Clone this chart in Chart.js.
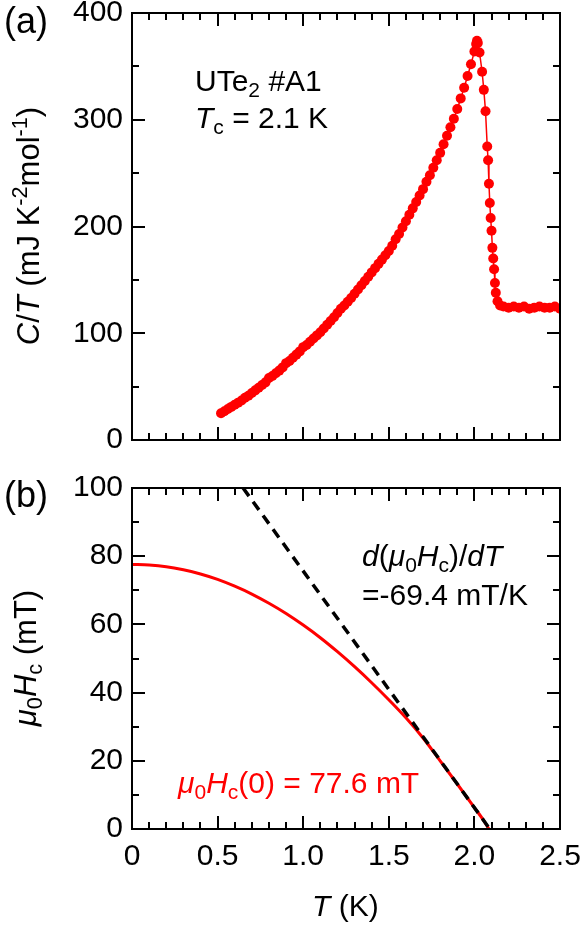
<!DOCTYPE html>
<html>
<head>
<meta charset="UTF-8">
<title>UTe2 #A1 - C/T and thermodynamic critical field</title>
<script src="https://cdn.jsdelivr.net/npm/chart.js@4.4.0/dist/chart.umd.min.js"></script>
<style>
  html, body { margin: 0; padding: 0; background: #fff; }
  body { width: 581px; height: 928px; position: relative; overflow: hidden;
         font-family: "Liberation Sans", Arial, sans-serif; color: #000; }
  canvas { position: absolute; left: 0; }
  #chartA { top: 0; }
  #chartB { top: 470px; }
  .txt { position: absolute; font-size: 30px; line-height: 30px; white-space: nowrap; z-index: 2; }
  .panel { position: absolute; font-size: 36px; line-height: 36px; z-index: 2; }
  .ytitle { position: absolute; font-size: 31px; line-height: 31px; white-space: nowrap; z-index: 2;
            transform: translate(-50%, -50%) rotate(-90deg); }
  sub { font-size: 0.7em; vertical-align: -0.28em; line-height: 0; }
  sup { font-size: 0.7em; vertical-align: 0.55em; line-height: 0; }
  i { font-style: italic; }
</style>
</head>
<body>
<canvas id="chartA" width="581" height="470"></canvas>
<canvas id="chartB" width="581" height="458"></canvas>

<div class="panel" style="left:4px; top:3px;">(a)</div>
<div class="panel" style="left:4px; top:477px;">(b)</div>

<div class="txt" style="left:195px; top:66px;">UTe<sub>2</sub> #A1</div>
<div class="txt" style="left:195px; top:103px;"><i>T</i><sub>c</sub> = 2.1 K</div>

<div class="txt" style="left:362px; top:541px;"><i>d</i>(<i>μ</i><sub>0</sub><i>H</i><sub>c</sub>)/<i>dT</i></div>
<div class="txt" style="left:362px; top:580px;">=-69.4 mT/K</div>
<div class="txt" style="left:178px; top:768px; color:#ff0000;"><i>μ</i><sub>0</sub><i>H</i><sub>c</sub>(0) = 77.6 mT</div>

<div class="ytitle" style="left:28px; top:226px;"><i>C</i>/<i>T</i> (mJ K<sup>-2</sup>mol<sup>-1</sup>)</div>
<div class="ytitle" style="left:25px; top:658px;"><i>μ</i><sub>0</sub><i>H</i><sub>c</sub> (mT)</div>
<div class="txt" style="left:312px; top:891px;"><i>T</i> (K)</div>

<script>
// (a) specific heat C/T vs T
const tempA = [
  0.52, 0.54, 0.56, 0.58, 0.60, 0.62, 0.64, 0.66, 0.68, 0.70,
  0.72, 0.74, 0.76, 0.78, 0.80, 0.82, 0.84, 0.86, 0.88, 0.90,
  0.92, 0.94, 0.96, 0.98, 1.00, 1.02, 1.04, 1.06, 1.08, 1.10,
  1.12, 1.14, 1.16, 1.18, 1.20, 1.22, 1.24, 1.26, 1.28, 1.30,
  1.32, 1.34, 1.36, 1.38, 1.40, 1.42, 1.44, 1.46, 1.48, 1.50,
  1.52, 1.54, 1.56, 1.58, 1.60, 1.62, 1.64, 1.66, 1.68, 1.70,
  1.72, 1.74, 1.76, 1.78, 1.80, 1.82, 1.84, 1.86, 1.88, 1.90,
  1.92, 1.94, 1.96, 1.98, 2.00, 2.01, 2.015, 2.02,
  2.03, 2.045, 2.055, 2.065, 2.075, 2.08, 2.085, 2.09, 2.095, 2.10,
  2.105, 2.11, 2.115, 2.12, 2.125, 2.135, 2.15, 2.17, 2.20,
  2.23, 2.26, 2.29, 2.32, 2.35, 2.38, 2.41, 2.44, 2.47, 2.50
];
const cOverT = [
  25, 27, 29, 31, 33, 35, 37, 39.5, 41.5, 44,
  46.5, 49, 51.5, 54, 58, 60, 62.5, 65, 68, 72,
  74, 77, 80, 83, 87, 89, 92, 95, 98, 101,
  104.5, 108, 111.5, 115, 119, 123, 126, 129.5, 133, 137,
  141, 145, 149, 153, 157, 161, 165, 169, 173, 177,
  182, 188, 193, 199, 205, 211, 217, 223, 229, 235,
  242, 248, 255, 262, 269, 277, 285, 293, 301, 310,
  320, 330, 341, 352, 364, 371, 374, 372,
  363, 345, 328, 308, 275, 262, 240, 222, 208, 196,
  180, 170, 160, 147, 138, 130, 126, 125, 124,
  125, 124, 125, 123, 124, 125, 124, 124, 125, 123
];

// (b) thermodynamic critical field
const tempB = [0, 0.1, 0.2, 0.3, 0.4, 0.5, 0.6, 0.7, 0.8, 0.9, 1.0,
               1.1, 1.2, 1.3, 1.4, 1.5, 1.6, 1.7, 1.8, 1.9, 2.0, 2.05, 2.085];
const hcField = [77.6, 77.4, 76.9, 76.0, 74.8, 73.2, 71.2, 68.9, 66.2, 63.2, 59.8,
                 56.1, 52.0, 47.6, 42.9, 37.9, 32.6, 26.7, 20.0, 13.2, 6.3, 2.8, 0];
// linear slope near Tc, -69.4 mT/K
const slopeT = [0.649, 2.09];
const slopeH = [100, 0];

// axes
const xTicks = [0, 0.5, 1.0, 1.5, 2.0, 2.5];
const xTickLabels = ['0', '0.5', '1.0', '1.5', '2.0', '2.5'];
const yTicksA = [0, 100, 200, 300, 400];
const yTicksB = [0, 20, 40, 60, 80, 100];

const RED = '#ff0000';
const FONT = { family: '"Liberation Sans", Arial, sans-serif', size: 30 };

// frame on four sides with inward major/minor ticks
const frameTicks = {
  id: 'frameTicks',
  afterDatasetsDraw(chart, args, opts) {
    const { ctx, chartArea: a, scales: { x, y } } = chart;
    ctx.save();
    ctx.strokeStyle = '#000';
    ctx.lineWidth = 2;
    ctx.beginPath();
    const nx = Math.round((x.max - x.min) / opts.xStep);
    for (let i = 0; i <= nx; i++) {
      const px = Math.round(x.getPixelForValue(x.min + i * opts.xStep));
      const len = i % opts.xEvery === 0 ? 13 : 7;
      ctx.moveTo(px, a.bottom); ctx.lineTo(px, a.bottom - len);
      ctx.moveTo(px, a.top); ctx.lineTo(px, a.top + len);
    }
    const ny = Math.round((y.max - y.min) / opts.yStep);
    for (let i = 0; i <= ny; i++) {
      const py = Math.round(y.getPixelForValue(y.min + i * opts.yStep));
      const len = i % opts.yEvery === 0 ? 13 : 7;
      ctx.moveTo(a.left, py); ctx.lineTo(a.left + len, py);
      ctx.moveTo(a.right, py); ctx.lineTo(a.right - len, py);
    }
    ctx.stroke();
    ctx.strokeRect(a.left, a.top, a.right - a.left, a.bottom - a.top);
    ctx.restore();
  }
};

function xScale(showLabels, height) {
  return {
    type: 'linear', min: 0, max: 2.5,
    grid: { display: false, drawTicks: false },
    border: { display: false },
    afterBuildTicks: s => { s.ticks = xTicks.map(v => ({ value: v })); },
    ticks: {
      display: showLabels, color: '#000', font: FONT, padding: 10, maxRotation: 0,
      callback: (v, i) => xTickLabels[i]
    },
    afterFit: s => { s.height = height; s.paddingLeft = 0; s.paddingRight = 0; }
  };
}

function yScale(max, ticks) {
  return {
    type: 'linear', min: 0, max: max,
    grid: { display: false, drawTicks: false },
    border: { display: false },
    afterBuildTicks: s => { s.ticks = ticks.map(v => ({ value: v })); },
    ticks: { color: '#000', font: FONT, padding: 9, callback: v => String(v) },
    afterFit: s => { s.width = 132; s.paddingTop = 0; s.paddingBottom = 0; }
  };
}

new Chart(document.getElementById('chartA'), {
  type: 'scatter',
  data: {
    datasets: [{
      data: tempA.map((t, i) => ({ x: t, y: cOverT[i] })),
      showLine: true,
      borderColor: RED,
      borderWidth: 1.5,
      backgroundColor: RED,
      pointRadius: 5,
      pointBorderWidth: 0,
      pointBackgroundColor: RED
    }]
  },
  plugins: [frameTicks],
  options: {
    responsive: false,
    animation: false,
    layout: { padding: { left: 0, right: 21, top: 13, bottom: 0 } },
    scales: { x: xScale(false, 30), y: yScale(400, yTicksA) },
    plugins: {
      legend: { display: false },
      tooltip: { enabled: false },
      frameTicks: { xStep: 0.1, xEvery: 5, yStep: 50, yEvery: 2 }
    }
  }
});

new Chart(document.getElementById('chartB'), {
  type: 'scatter',
  data: {
    datasets: [{
      data: slopeT.map((t, i) => ({ x: t, y: slopeH[i] })),
      showLine: true,
      borderColor: '#000',
      borderWidth: 3.5,
      borderDash: [10, 7],
      pointRadius: 0
    }, {
      data: tempB.map((t, i) => ({ x: t, y: hcField[i] })),
      showLine: true,
      borderColor: RED,
      borderWidth: 3,
      cubicInterpolationMode: 'monotone',
      pointRadius: 0
    }]
  },
  plugins: [frameTicks],
  options: {
    responsive: false,
    animation: false,
    layout: { padding: { left: 0, right: 21, top: 18, bottom: 0 } },
    scales: { x: xScale(true, 99), y: yScale(100, yTicksB) },
    plugins: {
      legend: { display: false },
      tooltip: { enabled: false },
      frameTicks: { xStep: 0.1, xEvery: 5, yStep: 10, yEvery: 2 }
    }
  }
});
</script>
</body>
</html>
